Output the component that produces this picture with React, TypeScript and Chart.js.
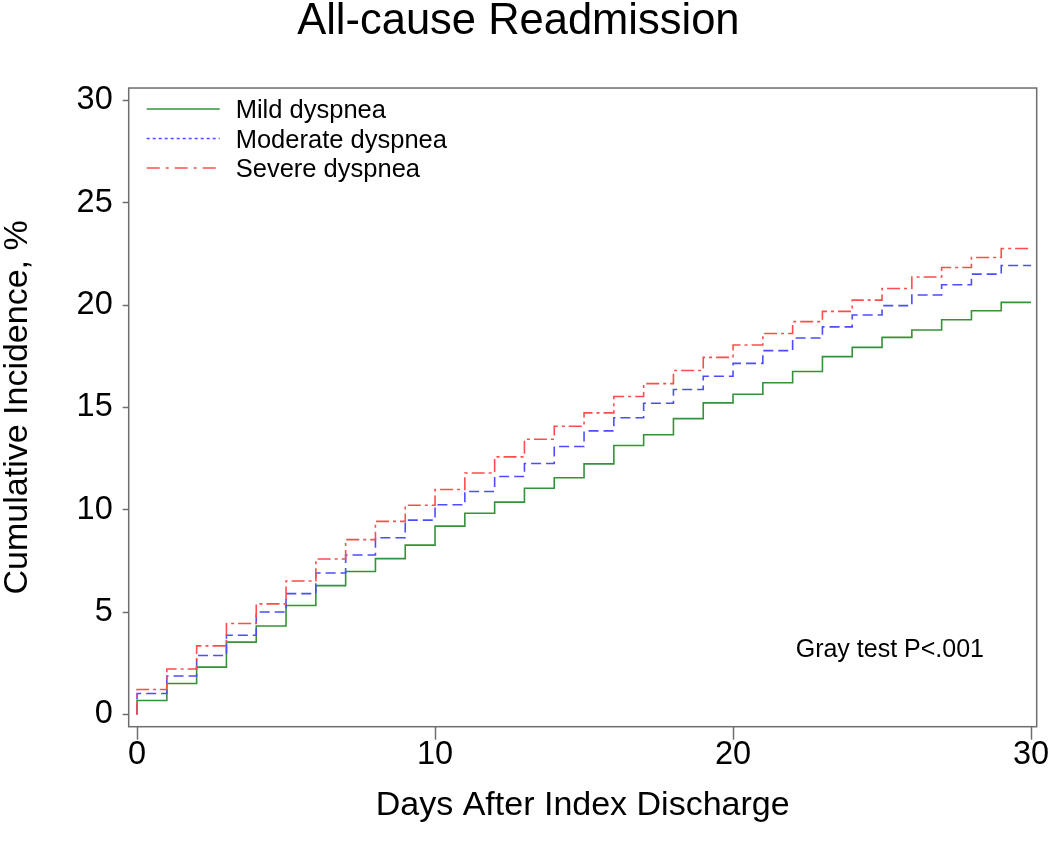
import React, { useEffect, useRef } from "react";
import { Chart, registerables } from "chart.js";

Chart.register(...registerables);

// ---- data ----
const days = [0, 1, 2, 3, 4, 5, 6, 7, 8, 9, 10, 11, 12, 13, 14, 15, 16, 17, 18, 19, 20, 21, 22, 23, 24, 25, 26, 27, 28, 29];
const endDay = 30;
const mildValues = [0.68, 1.51, 2.31, 3.53, 4.32, 5.32, 6.29, 6.98, 7.61, 8.27, 9.2, 9.83, 10.37, 11.05, 11.56, 12.24, 13.14, 13.66, 14.45, 15.22, 15.64, 16.2, 16.75, 17.48, 17.93, 18.42, 18.78, 19.28, 19.72, 20.13];
const moderateValues = [1.02, 1.88, 2.88, 3.87, 5.0, 5.9, 6.91, 7.79, 8.63, 9.49, 10.24, 10.89, 11.62, 12.26, 13.09, 13.85, 14.49, 15.2, 15.87, 16.52, 17.15, 17.77, 18.39, 18.93, 19.51, 19.97, 20.49, 20.99, 21.51, 21.93];
const severeValues = [1.22, 2.22, 3.35, 4.44, 5.4, 6.52, 7.59, 8.54, 9.43, 10.22, 10.99, 11.79, 12.58, 13.44, 14.08, 14.73, 15.53, 16.16, 16.8, 17.44, 18.05, 18.61, 19.19, 19.69, 20.24, 20.81, 21.37, 21.83, 22.32, 22.76];
const seriesNames = ["Mild dyspnea", "Moderate dyspnea", "Severe dyspnea"];
const xTicks = [0, 10, 20, 30];
const yTicks = [0, 5, 10, 15, 20, 25, 30];
const titleText = "All-cause Readmission";
const xTitle = "Days After Index Discharge";
const yTitle = "Cumulative Incidence, %";
const noteText = "Gray test P<.001";

const FONT = '"Liberation Sans", Arial, Helvetica, sans-serif';
const AXIS_GRAY = "#6e6e6e";
const COLORS = ["#35923a", "#4d4dff", "#ff4d4d"];
const DASHES: number[][] = [[], [10, 5], [13, 4, 3, 4]];
const LEGEND_DASHES: number[][] = [[], [3, 3], [13, 6, 3, 6]];

function stepPoints(vals: number[]) {
  const pts = [{ x: days[0], y: 0 }];
  days.forEach((d, i) => pts.push({ x: d, y: vals[i] }));
  pts.push({ x: endDay, y: vals[vals.length - 1] });
  return pts;
}

const boxPlugin = {
  id: "boxAndLegend",
  afterDatasetsDraw(chart: any) {
    const { ctx, chartArea } = chart;
    const { left, top, right, bottom } = chartArea;
    ctx.save();
    ctx.strokeStyle = AXIS_GRAY;
    ctx.lineWidth = 1.5;
    ctx.setLineDash([]);
    ctx.strokeRect(left, top, right - left, bottom - top);

    // legend
    ctx.font = `25.5px ${FONT}`;
    ctx.textBaseline = "middle";
    ctx.textAlign = "left";
    seriesNames.forEach((name, i) => {
      const y = top + 21 + i * 29.5;
      ctx.strokeStyle = COLORS[i];
      ctx.lineWidth = 1.5;
      ctx.setLineDash(LEGEND_DASHES[i]);
      ctx.beginPath();
      ctx.moveTo(left + 18, y);
      ctx.lineTo(left + 91, y);
      ctx.stroke();
      ctx.fillStyle = "#000";
      ctx.fillText(name, left + 107, y + 2);
    });

    // note
    ctx.setLineDash([]);
    ctx.font = `25px ${FONT}`;
    ctx.fillStyle = "#000";
    ctx.textBaseline = "alphabetic";
    ctx.fillText(noteText, left + 667, bottom - 70);
    ctx.restore();
  },
};

export default function App() {
  const canvasRef = useRef<HTMLCanvasElement | null>(null);

  useEffect(() => {
    const canvas = canvasRef.current;
    if (!canvas) return;
    const chart = new Chart(canvas, {
      type: "line",
      data: {
        datasets: [mildValues, moderateValues, severeValues].map((vals, i) => ({
          label: seriesNames[i],
          data: stepPoints(vals),
          borderColor: COLORS[i],
          backgroundColor: COLORS[i],
          borderWidth: 1.6,
          borderDash: DASHES[i],
          stepped: true,
          pointRadius: 0,
          fill: false,
          order: 3 - i,
        })),
      },
      options: {
        responsive: false,
        animation: false,
        devicePixelRatio: 1,
        layout: { padding: { left: 0, right: 13.3, top: 0, bottom: 0 } },
        plugins: {
          legend: { display: false },
          tooltip: { enabled: false },
          title: {
            display: true,
            text: titleText,
            color: "#000",
            font: { family: FONT, size: 43.5, weight: "normal", lineHeight: 0.78 },
            padding: { top: 5.4, bottom: 48.7 },
          },
        },
        scales: {
          x: {
            type: "linear",
            min: -0.28,
            max: 30.19,
            afterBuildTicks: (s: any) => {
              s.ticks = xTicks.map((v) => ({ value: v }));
            },
            afterFit: (s: any) => {
              s.height = 852 - 726.7;
              s.paddingLeft = 0;
              s.paddingRight = 0;
            },
            border: { display: false },
            grid: { drawOnChartArea: false, drawTicks: true, tickLength: 13, tickColor: AXIS_GRAY, tickWidth: 1.5 },
            ticks: { color: "#000", font: { family: FONT, size: 32.5 }, padding: -4, maxRotation: 0, autoSkip: false },
            title: {
              display: true,
              text: xTitle,
              color: "#000",
              font: { family: FONT, size: 34, lineHeight: 1.2 },
              padding: { top: 26, bottom: 26 },
            },
          },
          y: {
            type: "linear",
            min: -0.6,
            max: 30.6,
            afterBuildTicks: (s: any) => {
              s.ticks = yTicks.map((v) => ({ value: v }));
            },
            afterFit: (s: any) => {
              s.width = 128.7;
              s.paddingTop = 0;
              s.paddingBottom = 0;
            },
            border: { display: false },
            grid: { drawOnChartArea: false, drawTicks: true, tickLength: 6, tickColor: AXIS_GRAY, tickWidth: 1.5 },
            ticks: { color: "#000", font: { family: FONT, size: 32.5 }, padding: 10, autoSkip: false },
            title: {
              display: true,
              text: yTitle,
              color: "#000",
              font: { family: FONT, size: 34, lineHeight: 1 },
              padding: { top: 1, bottom: 1 },
            },
          },
        },
      },
      plugins: [boxPlugin],
    } as any);
    return () => chart.destroy();
  }, []);

  return (
    <div style={{ position: "absolute", left: 0, top: 0, width: 1050, height: 852, background: "#fff" }}>
      <canvas ref={canvasRef} width={1050} height={852} style={{ display: "block" }} />
    </div>
  );
}
